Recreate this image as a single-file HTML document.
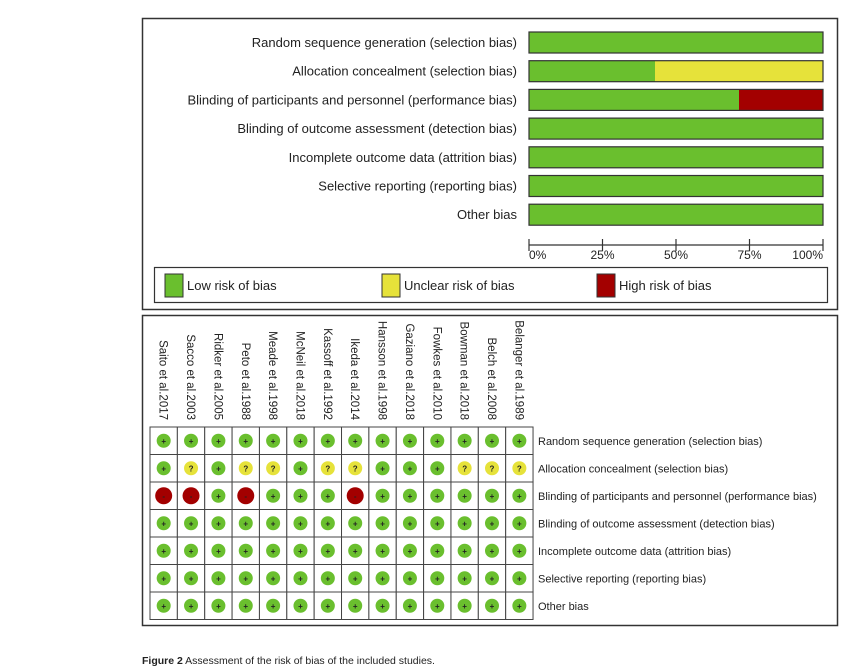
<!DOCTYPE html>
<html><head><meta charset="utf-8"><style>
body{margin:0;background:#fff;width:854px;height:672px;overflow:hidden;font-family:"Liberation Sans",sans-serif}
svg{position:absolute;left:0;top:0}
</style></head><body>
<svg id="fig" width="854" height="672" font-family="Liberation Sans, sans-serif"></svg>
<script>
const domains=["Random sequence generation (selection bias)","Allocation concealment (selection bias)","Blinding of participants and personnel (performance bias)","Blinding of outcome assessment (detection bias)","Incomplete outcome data (attrition bias)","Selective reporting (reporting bias)","Other bias"];
const studies=["Saito et al.2017","Sacco et al.2003","Ridker et al.2005","Peto et al.1988","Meade et al.1998","McNeil et al.2018","Kassoff et al.1992","Ikeda et al.2014","Hansson et al.1998","Gaziano et al.2018","Fowkes et al.2010","Bowman et al.2018","Belch et al.2008","Belanger et al.1989"];
// judgements per domain row: L=low, U=unclear, H=high
const judgements=[
"LLLLLLLLLLLLLL",
"LULUULUULLLUUU",
"HHLHLLLHLLLLLL",
"LLLLLLLLLLLLLL",
"LLLLLLLLLLLLLL",
"LLLLLLLLLLLLLL",
"LLLLLLLLLLLLLL"];
const tickLabels=["0%","25%","50%","75%","100%"];
const tickValues=[0,25,50,75,100];
const colors={L:"#6abf2e",U:"#e6e23a",H:"#a30000"};
const svg=document.getElementById('fig');
const NS="http://www.w3.org/2000/svg";
function el(t,a,p){const e=document.createElementNS(NS,t);for(const k in a)e.setAttribute(k,a[k]);(p||svg).appendChild(e);return e;}
const x0=529,x1=823;const xs=v=>x0+(x1-x0)*v/100;
const rowY=i=>32+i*28.7;
const p1=el('rect',{x:142.5,y:18.5,width:695,height:291,fill:'#fff',stroke:'#333','stroke-width':1.5});

domains.forEach((d,i)=>{
  const y=rowY(i);
  const t=el('text',{x:517,y:y+15,'text-anchor':'end','font-size':13,fill:'#222'});t.textContent=d;
  
  const row=judgements[i];const n=row.length;
  let cum=0;
  ['L','U','H'].forEach(k=>{
    const c=row.split('').filter(c=>c===k).length;
    if(!c)return;
    const p=c/n*100;
    const r=el('rect',{x:xs(cum),y:y,width:xs(cum+p)-xs(cum),height:21,fill:colors[k]});
    
    cum+=p;
  });
  const o=el('rect',{x:x0,y:y,width:x1-x0,height:21,fill:'none',stroke:'#333','stroke-width':1.2});
  
});
el('line',{x1:x0,x2:x1,y1:245,y2:245,stroke:'#333','stroke-width':1.2});
tickValues.forEach((v,i)=>{
  el('line',{x1:xs(v),x2:xs(v),y1:239,y2:251,stroke:'#333','stroke-width':1.2});
  const t=el('text',{x:i==0?x0:(i==4?x1:xs(v)),y:259,'text-anchor':i==0?'start':(i==4?'end':'middle'),'font-size':12,fill:'#222'});t.textContent=tickLabels[i];
  
});
const lg=el('rect',{x:154.5,y:267.5,width:673,height:35,fill:'#fff',stroke:'#333','stroke-width':1.2});

[["L","Low risk of bias",165],["U","Unclear risk of bias",382],["H","High risk of bias",597]].forEach(([k,l,x])=>{
  el('rect',{x:x,y:274,width:18,height:23,fill:colors[k],stroke:'#333','stroke-width':1});
  const t=el('text',{x:x+22,y:290,'font-size':13,fill:'#222'});t.textContent=l;
  
});
const p2=el('rect',{x:142.5,y:315.5,width:695,height:310,fill:'#fff',stroke:'#333','stroke-width':1.5});

const gx0=150,gy0=427,cw=27.36,rh=27.5;
studies.forEach((s,j)=>{
  const cx=gx0+cw*(j+0.5);
  const t=el('text',{x:0,y:0,'font-size':11.5,'text-anchor':'end',fill:'#222',transform:`translate(${cx-4},420) rotate(90)`});t.textContent=s;
  
});
domains.forEach((d,i)=>{
  const cy=gy0+rh*(i+0.5);
  const t=el('text',{x:538,y:cy+4,'font-size':11,fill:'#222'});t.textContent=d;
  
  studies.forEach((s,j)=>{
    const cx=gx0+cw*(j+0.5);const k=judgements[i][j];
    el('rect',{x:gx0+cw*j,y:gy0+rh*i,width:cw,height:rh,fill:'#fff',stroke:'#444','stroke-width':1});
    const c=el('circle',{cx:cx,cy:cy,r:k==='H'?8.5:7,fill:colors[k]});
    
    const sym=el('text',{x:cx,y:cy+3,'text-anchor':'middle','font-size':8,'font-weight':'bold',fill:'#222'});sym.textContent=k==='L'?'+':(k==='U'?'?':'-');
  });
});
const cap=el('text',{x:142,y:664,'font-size':10.5,fill:'#222'});

const b=el('tspan',{'font-weight':'bold'},cap);b.textContent='Figure 2';
const r=el('tspan',{},cap);r.textContent=' Assessment of the risk of bias of the included studies.';
</script>
</body></html>
